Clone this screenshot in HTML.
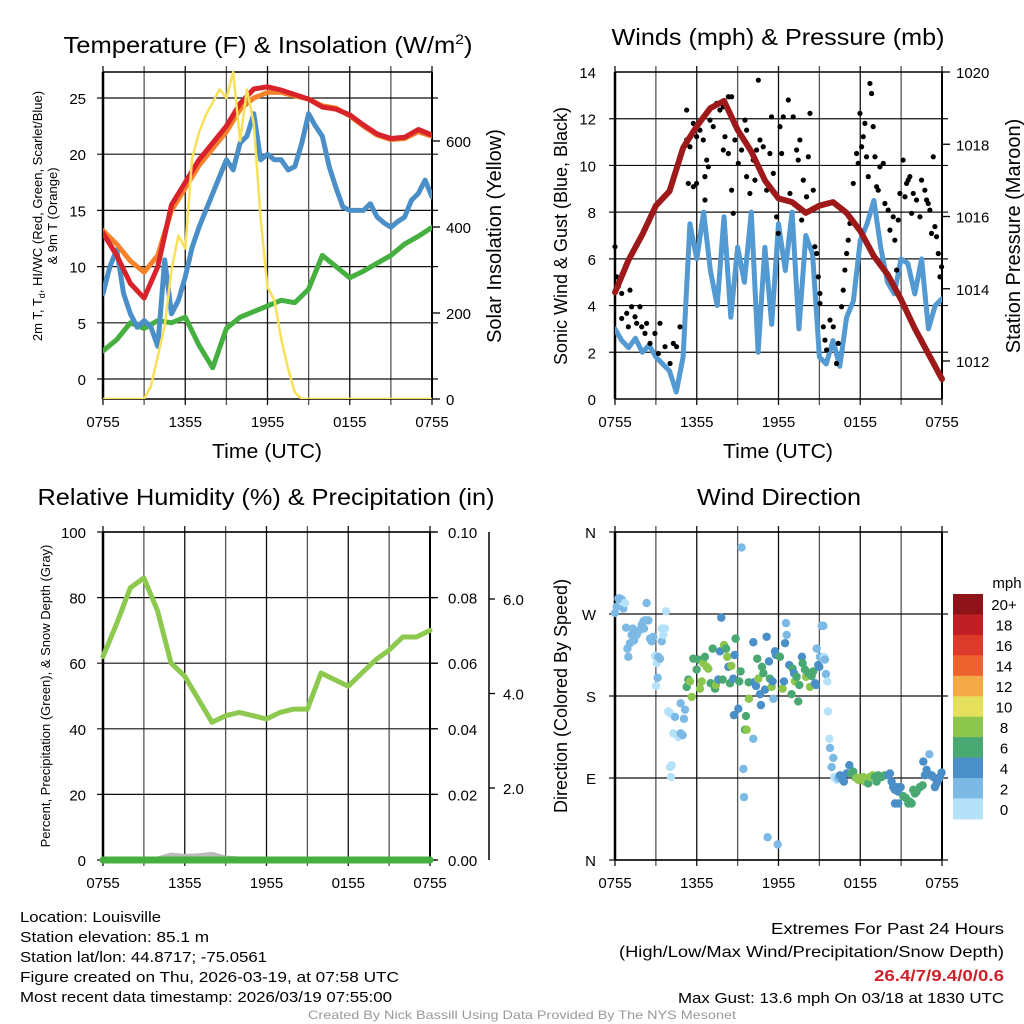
<!DOCTYPE html>
<html><head><meta charset="utf-8"><style>
html,body{margin:0;padding:0;background:#fff;}
svg{display:block;font-family:"Liberation Sans",Arial,sans-serif;}
</style></head><body>
<svg id="c" width="1024" height="1024" viewBox="0 0 1024 1024" xmlns="http://www.w3.org/2000/svg"></svg>
<script>
// ---------- DATA ----------
const xTickLabels = ["0755","1355","1955","0155","0755"];
const tempTicks = [0,5,10,15,20,25];
const solarTicks = [0,200,400,600];
const windTicks = [0,2,4,6,8,10,12,14];
const presTicks = [1012,1014,1016,1018,1020];
const rhTicks = [0,20,40,60,80,100];
const precipTicks = ["0.00","0.02","0.04","0.06","0.08","0.10"];
const snowTicks = [2,4,6];
const dirTicks = ["N","E","S","W","N"];
const speedBinLabels = ["0","2","4","6","8","10","12","14","16","18","20+"];
const speedBinColors = ["#b5e2f8","#7cb9e4","#4a8fc7","#4aa872","#8cc64c","#e5e05c","#f5aa48","#ee6230","#dc3a2a","#c01f26","#8f1419"];

// hourly (h0..h24)
const temp2m = [13,11,8.5,7.2,10,15.5,17.5,19.5,21,22.5,24.5,25.8,26,25.7,25.3,24.9,24.2,24,23.5,22.6,21.8,21.4,21.5,22.2,21.7];
const temp9m = [13.2,12,10.5,9.5,11,15,17,19,20.5,22,24,25,25.5,25.5,25.2,24.9,24.3,24.1,23.4,22.5,21.7,21.3,21.4,22.0,21.6];
const dewpoint = [2.5,3.5,5,4.5,5.2,5,5.5,3,1,4.5,5.5,6,6.5,7,6.8,8,11,10,9,9.6,10.3,11,12,12.7,13.5];
// half-hourly (0..24 step 0.5)
const heatIndexWC = [7.6,10,11.5,7.6,5.8,4.6,5.2,4.6,2.9,10.6,5.8,7,9.1,11.7,13.5,15,16.5,18,19.5,18.6,21,21.6,23.6,19.5,20,19.5,19.5,18.6,18.9,21,23.6,22.5,21.6,18.9,17,15.3,15,15,15,15.6,14.4,13.9,13.5,14,14.4,15.9,16.5,17.7,16.2];
const solar = [0,0,0,0,0,0,0,30,100,170,300,380,350,560,620,660,690,720,700,760,600,720,640,420,260,230,140,70,15,0,0,0,0,0,0,0,0,0,0,0,0,0,0,0,0,0,0,0,0];
const windSpeed = [3.0,2.5,2.2,2.6,2.0,2.3,1.8,1.5,1.2,0.3,1.8,7.5,6.0,8.0,5.5,4.0,7.8,3.5,6.5,5.0,8.0,2.0,6.5,3.2,7.5,5.5,8.0,3.0,7.0,6.2,1.8,1.5,2.5,1.4,3.5,4.2,6.8,7.5,8.5,6.5,5.0,4.5,6.0,5.8,4.5,6.0,3.0,4.0,4.3];
const pressure = [1013.9,1014.8,1015.5,1016.3,1016.7,1017.9,1018.5,1019.0,1019.2,1018.4,1017.8,1017.0,1016.5,1016.4,1016.1,1016.3,1016.4,1016.1,1015.6,1014.9,1014.4,1013.7,1012.9,1012.2,1011.5];
const gustHours = [0,0.12,0.24,0.49,0.49,0.86,1.1,0.98,1.22,1.47,1.59,1.83,1.96,2.2,2.32,2.57,2.93,3.18,3.3,3.67,4.04,4.28,4.52,4.77,5.26,5.26,5.5,5.38,5.75,5.99,5.75,5.99,6.24,6.48,6.73,6.6,6.85,6.6,6.97,7.21,7.46,7.7,7.95,8.07,7.95,8.32,8.56,8.32,8.56,8.68,8.8,9.05,9.29,9.54,9.66,9.66,9.9,10.15,10.27,10.39,10.52,10.64,10.88,11.13,11.37,11.49,11.62,11.86,11.98,12.11,12.23,12.35,12.72,12.84,13.08,13.33,13.45,13.57,13.7,13.82,14.06,14.19,14.31,14.55,14.67,14.8,14.92,15.04,15.04,15.29,15.41,15.53,15.78,16.02,16.26,16.39,16.63,16.75,16.87,17,17.12,17.24,17.49,17.73,17.85,17.98,18.1,18.22,18.34,18.46,18.59,18.71,18.83,18.95,19.08,19.2,19.32,19.44,19.69,19.81,20.05,20.18,20.42,20.54,20.67,20.79,20.91,21.15,21.28,21.4,21.52,21.64,21.77,21.89,22.13,22.38,22.5,22.74,22.87,22.99,23.11,23.23,23.36,23.48,23.6,23.73,23.85,23.97];
const gustMph = [6.52,5.23,4.81,4.52,3.45,3.67,4.66,3.09,3.95,3.52,3.24,3.95,3.09,2.81,3.24,2.38,2.81,1.95,3.24,2.24,1.52,2.38,2.24,3.09,12.37,11.09,10.8,9.23,9.09,9.23,11.8,11.23,11.51,11.09,10.23,9.52,9.94,8.52,11.94,11.66,12.66,12.37,12.51,11.23,10.66,12.94,12.94,10.51,8.94,7.95,11.09,10.09,10.66,11.94,11.51,9.52,8.8,10.23,9.37,10.66,13.65,11.09,10.8,8.94,10.51,12.08,9.66,7.8,7.09,11.66,10.51,12.08,12.8,8.8,12.08,10.66,10.23,11.09,7.66,9.37,8.66,10.37,12.23,8.94,6.52,6.23,5.23,4.52,4.09,3.09,2.52,2.1,3.38,3.09,1.52,2.38,3.95,4.66,5.52,6.23,6.8,7.52,9.23,10.51,10.09,12.23,10.8,11.23,11.8,10.37,9.52,13.51,13.08,11.66,10.37,9.09,8.94,9.94,10.09,8.37,8.09,7.23,7.8,6.8,5.52,7.66,8.8,10.23,8.66,9.23,9.37,9.52,7.95,8.8,8.52,7.8,9.37,8.94,8.52,8.37,8.09,7.09,10.37,7.38,6.95,6.23,5.23,5.66,5.38];
const rhHourly = [62,72,83,86,76,60,56,49,42,44,45,44,43,45,46,46,57,55,53,57,61,64,68,68,70];
const precip = [0,0,0,0,0,0,0,0,0,0,0,0,0,0,0,0,0,0,0,0,0,0,0,0,0];
const snowDepth = [0,0,0,0,0,0.12,0.08,0.1,0.14,0.03,0,0,0,0,0,0,0,0,0,0,0,0,0,0,0];
const dirHours = [0.0,0.12,0.25,0.37,0.49,0.61,0.73,0.81,0.91,0.98,1.1,1.22,1.3,1.4,1.59,1.79,1.96,2.08,2.2,2.32,2.45,2.13,2.57,2.69,2.81,2.94,3.06,3.18,3.3,3.01,3.13,3.43,3.55,3.67,3.74,3.43,3.91,4.04,4.16,4.11,4.04,4.28,4.65,4.4,4.82,5.14,5.06,4.82,4.97,
5.26,5.38,5.5,5.63,5.75,5.99,6.12,6.24,6.36,6.48,6.6,6.73,6.85,7.02,7.17,7.34,7.41,7.58,7.71,7.8,7.9,8.0,8.15,8.24,8.32,8.54,8.44,8.68,8.78,8.85,9.22,9.12,8.73,9.05,9.61,9.54,9.66,9.83,9.81,10.15,10.2,10.35,10.44,10.52,10.64,10.71,10.79,10.89,11.01,11.13,11.3,11.37,11.5,11.62,11.57,11.74,11.81,12.11,12.3,12.4,12.48,12.6,12.55,12.79,12.96,13.04,13.14,13.21,13.33,13.53,13.45,13.72,13.77,13.94,14.02,14.19,14.31,14.43,14.55,14.68,14.75,14.8,14.92,15.04,14.99,15.17,15.29,15.34,15.41,15.48,15.58,15.63,15.73,15.78,
9.29,9.42,9.47,11.2,11.94,10.15,
15.9,16.02,16.09,16.27,16.39,16.51,16.71,16.8,17.0,17.2,17.37,17.49,17.61,17.73,17.86,17.98,18.1,18.22,18.35,18.47,18.59,18.71,18.91,19.08,19.2,19.32,19.57,19.81,20.06,20.18,20.3,20.42,20.55,20.67,20.79,20.96,20.55,20.79,21.16,21.35,21.53,21.65,21.77,21.89,22.01,22.14,22.38,22.58,22.63,22.75,22.87,23.07,23.24,23.36,23.48,23.6,23.73,23.85,23.97];
const dirDeg = [271,278,287,287,286,276,282,255,232,223,238,247,254,241,247,252,258,262,263,282,263,254,243,240,245,224,216,223,221,191,200,240,247,254,273,254,163,161,104,91,102,139,135,157,172,165,155,139,137,
190,198,196,179,221,209,220,188,196,216,223,212,210,194,232,188,192,198,229,266,198,236,232,223,212,213,194,199,225,243,207,196,159,166,158,143,143,177,195,239,195,191,221,199,182,170,212,205,187,245,218,199,190,177,196,229,225,223,188,196,238,247,260,214,182,210,205,196,201,192,174,223,216,209,201,205,190,202,207,194,192,232,214,223,212,257,257,223,220,204,196,163,133,123,
343,100,69,25,17,133,
102,112,91,88,90,93,88,86,95,104,95,97,91,90,88,90,88,91,86,88,84,91,93,91,86,93,91,93,93,95,86,80,77,80,75,80,62,62,70,68,62,64,62,77,73,75,80,82,108,93,99,116,93,91,80,84,88,91,96];
const dirSpeed = [3,3,3,3,3,3,1,3,3,3,3,3,3,3,3,3,3,3,3,3,3,3,3,3,3,1,1,3,3,1,3,3,1,1,1,1,1,1,1,1,1,1,1,3,3,3,3,3,3,
7,7,9,9,7,7,7,9,9,9,7,9,9,7,7,7,9,5,5,5,7,9,7,9,5,9,7,5,5,7,7,7,5,5,7,7,9,9,7,5,5,5,7,9,5,5,7,7,5,5,5,7,9,3,5,5,5,7,9,5,5,3,3,5,7,7,5,9,7,7,7,5,7,7,9,7,9,7,7,5,5,3,5,3,5,3,3,1,3,3,1,1,1,3,
3,3,3,3,3,3,
3,3,1,1,3,5,5,5,5,5,7,7,7,9,9,9,9,9,9,9,7,9,9,7,7,7,7,7,5,5,5,5,5,5,5,5,5,5,7,7,7,7,7,7,7,7,7,7,5,5,5,3,5,5,5,5,5,5,5];

// ---------- DRAWING ----------
const NS="http://www.w3.org/2000/svg";
const svg=document.getElementById('c');
function mk(tag,attrs,parent,text){const e=document.createElementNS(NS,tag);for(const k in attrs)e.setAttribute(k,attrs[k]);if(text!==undefined)e.textContent=text;(parent||svg).appendChild(e);return e;}
function grp(name){const g=mk('g',{});return g;}
function lin(d0,d1,r0,r1){return v=>r0+(v-d0)*(r1-r0)/(d1-d0);}
function txt(parent,x,y,s,size,anchor,extra){const t=mk('text',Object.assign({x:x,y:y,'font-size':size,'text-anchor':anchor||'middle',fill:'#000'},extra||{}),parent,s);return t;}
function poly(parent,xs,ys,color,w,name){let d='';for(let i=0;i<xs.length;i++)d+=(i?'L':'M')+xs[i].toFixed(1)+','+ys[i].toFixed(1);const p=mk('path',{d:d,fill:'none',stroke:color,'stroke-width':w,'stroke-linejoin':'round','stroke-linecap':'round'},parent);return p;}
const hourly=Array.from({length:25},(_,i)=>i);
const halfH=Array.from({length:49},(_,i)=>i*0.5);
const TL={lengthAdjust:'spacingAndGlyphs'};

function frame(g,x0,x1,y0,y1,hY,xLab){
  const xs=lin(0,24,x0,x1);
  for(let h=0;h<=24;h+=3){const X=xs(h);mk('line',{x1:X,x2:X,y1:y0-6,y2:y1+6,stroke:(h%6===0)?'#111':'#555','stroke-width':1.3},g);}
  hY.forEach(Y=>mk('line',{x1:x0-6,x2:x1+6,y1:Y,y2:Y,stroke:'#111','stroke-width':1.2},g));
  mk('line',{x1:x0,x2:x0,y1:y0,y2:y1,stroke:'#000','stroke-width':2.5},g);
  mk('line',{x1:x1,x2:x1,y1:y0,y2:y1,stroke:'#000','stroke-width':2},g);
  mk('line',{x1:x0,x2:x1,y1:y0,y2:y0,stroke:'#000','stroke-width':1.6},g);
  mk('line',{x1:x0,x2:x1,y1:y1,y2:y1,stroke:'#000','stroke-width':1.6},g);
  if(xLab){xTickLabels.forEach((s,i)=>{const t=txt(g,xs(i*6),y1+28,s,15);});}
  return xs;
}

// ===== Panel 1: Temperature =====
(function(){
  const g=grp('temperature-panel');
  const x0=103,x1=432,y0=72,y1=399;
  const yT=lin(0,25,379,98), yS=lin(0,600,399,141);
  const xs=frame(g,x0,x1,y0,y1,tempTicks.map(yT),true);
  tempTicks.forEach(v=>{const t=txt(g,86,yT(v)+6,String(v),15,'end');});
  solarTicks.forEach(v=>{mk('line',{x1:x1,x2:x1+8,y1:yS(v),y2:yS(v),stroke:'#000','stroke-width':1.3},g);const t=txt(g,446,yS(v)+6,String(v),15,'start');});
  const cp=mk('clipPath',{id:'cp1'},g);mk('rect',{x:x0,y:y0-4,width:x1-x0,height:y1-y0+4},cp);
  const s=mk('g',{'clip-path':'url(#cp1)'},g);
  poly(s,hourly.map(xs),dewpoint.map(yT),'#45b040',5,'dewpoint-line');
  poly(s,halfH.map(xs),heatIndexWC.map(yT),'#4a8fc7',5,'heat-index-windchill-line');
  poly(s,hourly.map(xs),temp9m.map(yT),'#f5822a',5,'temp-9m-line');
  poly(s,hourly.map(xs),temp2m.map(yT),'#d8232a',5,'temp-2m-line');
  poly(s,halfH.map(xs),solar.map(yS),'#f7e159',2.5,'solar-insolation-line');
  const tt=txt(g,268,53,'',23,'middle',Object.assign({textLength:409},TL));
  tt.innerHTML='Temperature (F) &amp; Insolation (W/m<tspan dy="-9" font-size="14">2</tspan><tspan dy="9">)</tspan>';
  const xt=txt(g,267,458,'Time (UTC)',20,'middle',Object.assign({textLength:110},TL));
  const l1=txt(g,0,0,'',13,'middle',{transform:'translate(42,216) rotate(-90)'});
  l1.innerHTML='2m T, T<tspan dy="3" font-size="9">d</tspan><tspan dy="-3">, HI/WC (Red, Green, Scarlet/Blue)</tspan>';
  const l2=txt(g,0,0,'& 9m T (Orange)',13,'middle',{transform:'translate(57,216) rotate(-90)'});
  const r=txt(g,0,0,'Solar Insolation (Yellow)',20,'middle',{transform:'translate(501,236) rotate(-90)'});
})();

// ===== Panel 2: Winds & pressure =====
(function(){
  const g=grp('winds-pressure-panel');
  const x0=615,x1=942,y0=72,y1=399;
  const yW=lin(0,14,399,72), yP=lin(1012,1020,361,72);
  const xs=frame(g,x0,x1,y0,y1,windTicks.filter(v=>v>0&&v<14).map(yW),true);
  windTicks.forEach(v=>{const t=txt(g,596,yW(v)+6,String(v),15,'end');});
  presTicks.forEach(v=>{mk('line',{x1:x1,x2:x1+8,y1:yP(v),y2:yP(v),stroke:'#000','stroke-width':1.3},g);const t=txt(g,956,yP(v)+6,String(v),15,'start');});
  const cp=mk('clipPath',{id:'cp2'},g);mk('rect',{x:x0,y:y0,width:x1-x0,height:y1-y0+2},cp);
  const s=mk('g',{'clip-path':'url(#cp2)'},g);
  poly(s,halfH.map(xs),windSpeed.map(yW),'#5399d2',5,'sonic-wind-line');
  for(let i=0;i<gustHours.length;i++){
    const c=mk('circle',{cx:xs(gustHours[i]),cy:yW(gustMph[i]),r:2.6,fill:'#000'},g);
    
    
  }
  poly(g,hourly.map(xs),pressure.map(yP),'#9e1a1a',6,'pressure-line');
  const tt=txt(g,778,45,'Winds (mph) & Pressure (mb)',23,'middle',Object.assign({textLength:333},TL));
  const xt=txt(g,778,458,'Time (UTC)',20,'middle',Object.assign({textLength:110},TL));
  const l=txt(g,0,0,'Sonic Wind & Gust (Blue, Black)',18,'middle',{transform:'translate(567,236) rotate(-90)'});
  const r=txt(g,0,0,'Station Pressure (Maroon)',20,'middle',{transform:'translate(1020,236) rotate(-90)'});
})();

// ===== Panel 3: RH & precip =====
(function(){
  const g=grp('humidity-precip-panel');
  const x0=103,x1=430,y0=532,y1=860;
  const yR=lin(0,100,860,532), yPr=lin(0,0.1,860,532), ySn=lin(6,2,599,788);
  const xs=frame(g,x0,x1,y0,y1,rhTicks.map(yR),true);
  rhTicks.forEach(v=>{const t=txt(g,86,yR(v)+6,String(v),15,'end');});
  precipTicks.forEach((s,i)=>{const Y=yR(i*20);mk('line',{x1:x1,x2:x1+8,y1:Y,y2:Y,stroke:'#000','stroke-width':1.3},g);const t=txt(g,448,Y+6,s,15,'start');});
  const ax=mk('line',{x1:489,x2:489,y1:y0,y2:y1,stroke:'#000','stroke-width':1.5},g);
  snowTicks.forEach(v=>{mk('line',{x1:489,x2:495,y1:ySn(v),y2:ySn(v),stroke:'#000','stroke-width':1.3},g);const t=txt(g,503,ySn(v)+6,v.toFixed(1),15,'start');});
  poly(g,hourly.map(xs),snowDepth.map(v=>yPr(v*0.01)),'#bbbbbb',7,'snow-depth-line');
  poly(g,hourly.map(xs),precip.map(yPr),'#45b040',7,'precip-line');
  poly(g,hourly.map(xs),rhHourly.map(yR),'#8dc94e',5,'relative-humidity-line');
  const tt=txt(g,266,505,'Relative Humidity (%) & Precipitation (in)',23,'middle',Object.assign({textLength:457},TL));
  const l=txt(g,0,0,'Percent, Precipitation (Green), & Snow Depth (Gray)',13,'middle',{transform:'translate(50,696) rotate(-90)'});
})();

// ===== Panel 4: Wind direction =====
(function(){
  const g=grp('wind-direction-panel');
  const x0=615,x1=942,y0=532,y1=860;
  const yD=lin(0,360,860,532);
  const xs=frame(g,x0,x1,y0,y1,[0,90,180,270,360].map(yD),true);
  dirTicks.forEach((s,i)=>{const t=txt(g,596,yD(i*90)+6,s,15,'end');});
  for(let i=0;i<dirHours.length;i++){
    const b=Math.min(10,Math.floor(dirSpeed[i]/2));
    const c=mk('circle',{cx:xs(dirHours[i]),cy:yD(dirDeg[i]),r:4.2,fill:speedBinColors[b]},g);
    
    
  }
  const cb=grp('speed-colorbar');g.appendChild(cb);
  const bh=(819-594)/11;
  for(let i=0;i<11;i++){
    const idx=10-i;const Y=594+i*bh;
    const r=mk('rect',{x:953,y:Y,width:30,height:bh+0.5,fill:speedBinColors[idx]},cb);
    
    
    const t=txt(cb,1004,Y+bh/2+6,speedBinLabels[idx],15,'middle');
    
    
  }
  const u=txt(cb,1007,588,'mph',15,'middle');
  const tt=txt(g,779,505,'Wind Direction',23,'middle',Object.assign({textLength:164},TL));
  const l=txt(g,0,0,'Direction (Colored By Speed)',18,'middle',{transform:'translate(567,696) rotate(-90)'});
})();

// ===== Footer =====
(function(){
  const g=grp('station-info');
  const lines=[["Location: Louisville",141],["Station elevation: 85.1 m",189],["Station lat/lon: 44.8717; -75.0561",247],["Figure created on Thu, 2026-03-19, at 07:58 UTC",379],["Most recent data timestamp: 2026/03/19 07:55:00",372]];
  lines.forEach((l,i)=>{const t=txt(g,20,922+i*20,l[0],15,'start',{textLength:l[1],lengthAdjust:'spacingAndGlyphs'});});
  const e=grp('extremes-info');
  const t1=txt(e,1004,934,'Extremes For Past 24 Hours',16,'end',{textLength:233,lengthAdjust:'spacingAndGlyphs'});
  const t2=txt(e,1004,957,'(High/Low/Max Wind/Precipitation/Snow Depth)',16,'end',{textLength:385,lengthAdjust:'spacingAndGlyphs'});
  const t3=txt(e,1004,981,'26.4/7/9.4/0/0.6',16,'end',{fill:'#d0202a','font-weight':'bold',textLength:130,lengthAdjust:'spacingAndGlyphs'});
  const t4=txt(e,1004,1003,'Max Gust: 13.6 mph On 03/18 at 1830 UTC',15,'end',{textLength:326,lengthAdjust:'spacingAndGlyphs'});
  const c=txt(svg,522,1019,'Created By Nick Bassill Using Data Provided By The NYS Mesonet',12,'middle',{fill:'#999',textLength:428,lengthAdjust:'spacingAndGlyphs'});
})();
</script>
</body></html>
